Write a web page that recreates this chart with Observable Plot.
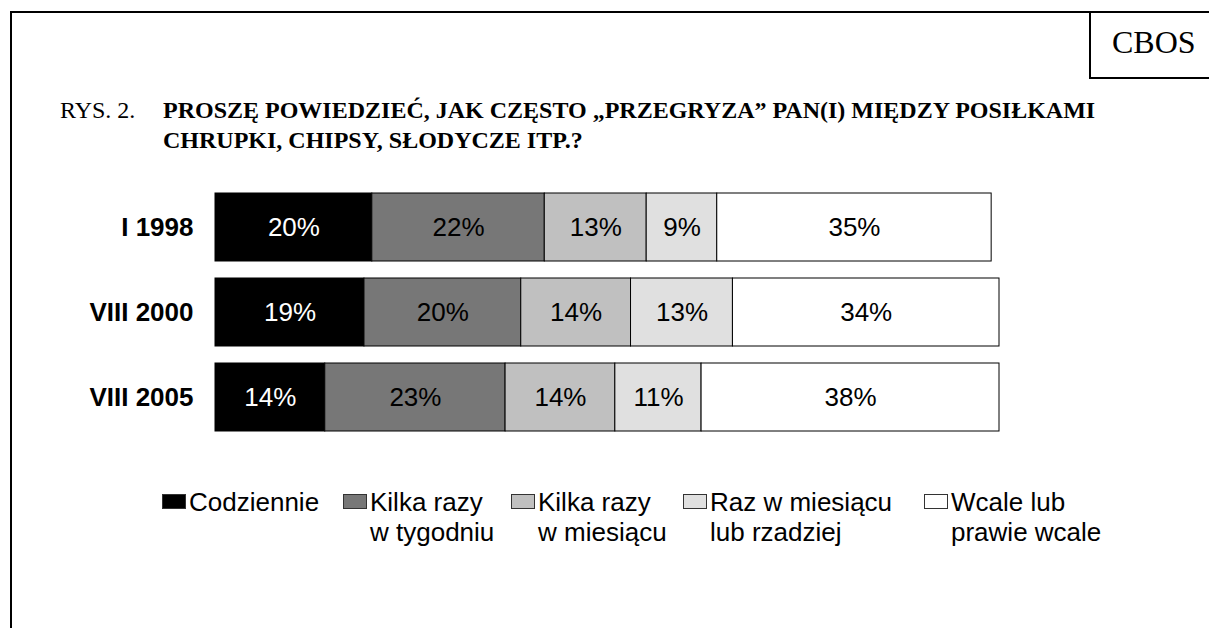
<!DOCTYPE html>
<html>
<head>
<meta charset="utf-8">
<script src="https://cdn.jsdelivr.net/npm/d3@7"></script>
<script src="https://cdn.jsdelivr.net/npm/@observablehq/plot@0.6"></script>
<style>
  html, body { margin: 0; padding: 0; background: #fff; }
  #wrap { position: relative; width: 1209px; height: 628px; overflow: hidden; background: #fff; }
  #wrap svg { position: absolute; left: 0; top: 0; }
  .frame { position: absolute; left: 10px; top: 11px; width: 1400px; height: 800px; border-left: 2px solid #000; border-top: 2px solid #000; }
  .cbosbox { position: absolute; left: 1089px; top: 11px; width: 200px; height: 66px; border-left: 2px solid #000; border-bottom: 2px solid #000; }
  .cbos { position: absolute; left: 1112px; top: 24px; font-family: "Liberation Serif", serif; font-size: 32px; line-height: 36px; color: #000; }
  .t { position: absolute; font-family: "Liberation Serif", serif; font-size: 24px; line-height: 30px; color: #000; white-space: nowrap; }
  .tb { font-weight: bold; }
  .leg { position: absolute; font-family: "Liberation Sans", Arial, sans-serif; font-size: 26px; line-height: 30px; color: #000; white-space: nowrap; }
  .sw { position: absolute; width: 22px; height: 13px; border: 1px solid #333; }
  .lt { position: absolute; }
</style>
</head>
<body>
<div id="wrap">
  <div class="frame"></div>
  <div class="cbosbox"></div>
  <div class="cbos">CBOS</div>
  <div class="t" style="left:60px; top:95px;">RYS. 2.</div>
  <div class="t tb" style="left:163px; top:95px;">PROSZĘ POWIEDZIEĆ, JAK CZĘSTO „PRZEGRYZA” PAN(I) MIĘDZY POSIŁKAMI<br>CHRUPKI, CHIPSY, SŁODYCZE ITP.?</div>
</div>
<script>
// ---- data ----
const years = ["I 1998", "VIII 2000", "VIII 2005"];
const categories = ["Codziennie", "Kilka razy w tygodniu", "Kilka razy w miesiącu", "Raz w miesiącu lub rzadziej", "Wcale lub prawie wcale"];
const legendLine1 = ["Codziennie", "Kilka razy", "Kilka razy", "Raz w miesiącu", "Wcale lub"];
const legendLine2 = ["", "w tygodniu", "w miesiącu", "lub rzadziej", "prawie wcale"];
const codziennie = [20, 19, 14];
const tygodniu = [22, 20, 23];
const miesiacu = [13, 14, 14];
const rzadziej = [9, 13, 11];
const wcale = [35, 34, 38];
const colors = ["#000000", "#777777", "#c0c0c0", "#e0e0e0", "#ffffff"];

const series = [codziennie, tygodniu, miesiacu, rzadziej, wcale];
const data = [];
years.forEach((y, i) => {
  categories.forEach((c, j) => {
    data.push({year: y, cat: c, value: series[j][i]});
  });
});

const font = '"Liberation Sans", Arial, sans-serif';

const chart = Plot.plot({
  width: 1209,
  height: 628,
  marginLeft: 215,
  marginRight: 210,
  marginTop: 175,
  marginBottom: 178,
  style: {fontFamily: font, background: "transparent"},
  x: {domain: [0, 100], axis: null},
  y: {domain: years, padding: 0.198, axis: null},
  color: {domain: categories, range: colors},
  marks: [
    Plot.barX(data, Plot.stackX({
      x: "value", y: "year", z: "cat", order: categories,
      fill: "cat", stroke: "#000", strokeWidth: 1
    })),
    Plot.text(data, Plot.stackX({
      x: "value", y: "year", z: "cat", order: categories,
      text: d => d.value + "%",
      fill: d => d.cat === categories[0] ? "#fff" : "#000",
      fontSize: 26, fontFamily: font
    })),
    Plot.text(years, {
      y: d => d, frameAnchor: "left", textAnchor: "end", dx: -22,
      fontSize: 26, fontWeight: "bold", fontFamily: font, fill: "#000"
    })
  ]
});

const wrap = document.getElementById("wrap");
wrap.insertBefore(chart, wrap.firstChild);

// ---- legend ----
const swatchLeft = [162, 343, 511, 683, 924];
categories.forEach((c, i) => {
  const item = document.createElement("div");
  item.className = "leg";
  item.style.left = swatchLeft[i] + "px";
  item.style.top = "487px";
  const sw = document.createElement("div");
  sw.className = "sw";
  sw.style.left = "0px";
  sw.style.top = "7px";
  sw.style.background = colors[i];
  item.appendChild(sw);
  const lt = document.createElement("div");
  lt.className = "lt";
  lt.style.left = "27px";
  lt.style.top = "0px";
  lt.innerHTML = legendLine1[i] + (legendLine2[i] ? "<br>" + legendLine2[i] : "");
  item.appendChild(lt);
  wrap.appendChild(item);
});
</script>
</body>
</html>
